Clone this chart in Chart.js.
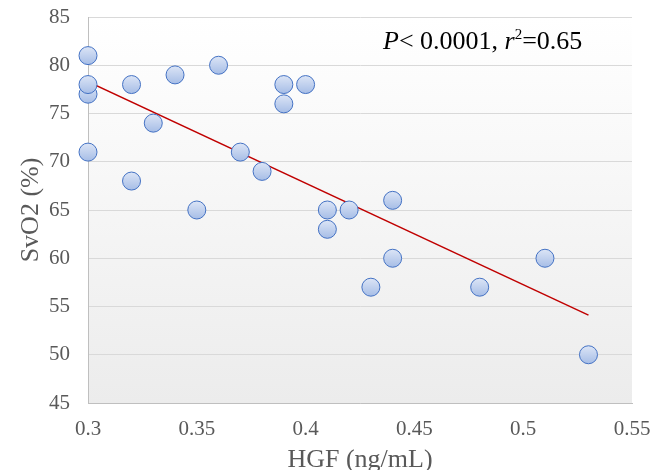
<!DOCTYPE html>
<html>
<head>
<meta charset="utf-8">
<script src="https://cdn.jsdelivr.net/npm/chart.js@4"></script>
<style>
  html, body { margin: 0; padding: 0; background: #fff; }
  #wrap { width: 652px; height: 470px; }
</style>
</head>
<body>
<div id="wrap"><canvas id="chart" width="652" height="470"></canvas></div>
<script>
const hgf = [0.30, 0.30, 0.30, 0.30, 0.32, 0.32, 0.33, 0.34, 0.35, 0.36, 0.37, 0.38,
             0.39, 0.39, 0.40, 0.41, 0.41, 0.42, 0.43, 0.44, 0.44, 0.48, 0.51, 0.53];
const svo2 = [81, 77, 78, 71, 78, 68, 74, 79, 65, 80, 71, 69,
              78, 76, 78, 65, 63, 65, 57, 66, 60, 57, 60, 50];
const trendX = [0.30, 0.53];
const trendY = [78.3, 54.1];

const serif = "'Liberation Serif', 'Times New Roman', serif";

// soft white-to-grey fill behind the plot area
const plotBackground = {
    id: 'plotBackground',
    beforeDraw(chart) {
        const { ctx, chartArea: a } = chart;
        const g = ctx.createLinearGradient(0, a.top, 0, a.bottom);
        g.addColorStop(0, '#ffffff');
        g.addColorStop(1, '#ececec');
        ctx.save();
        ctx.fillStyle = g;
        ctx.fillRect(a.left, a.top, a.right - a.left, a.bottom - a.top);
        ctx.restore();
    }
};

// "P< 0.0001, r2=0.65" with italics and superscript
const statsLabel = {
    id: 'statsLabel',
    afterDraw(chart) {
        const ctx = chart.ctx;
        const parts = [
            { t: 'P', f: 'italic 26px ' + serif, dy: 0 },
            { t: '< 0.0001, ', f: '26px ' + serif, dy: 0 },
            { t: 'r', f: 'italic 26px ' + serif, dy: 0 },
            { t: '2', f: '15px ' + serif, dy: -10 },
            { t: '=0.65', f: '26px ' + serif, dy: 0 }
        ];
        let x = 383;
        const y = 49;
        ctx.save();
        ctx.fillStyle = '#000';
        ctx.textBaseline = 'alphabetic';
        parts.forEach(p => {
            ctx.font = p.f;
            ctx.fillText(p.t, x, y + p.dy);
            x += ctx.measureText(p.t).width;
        });
        ctx.restore();
    }
};

// light-to-mid blue fill on each marker, top to bottom
function markerFill(c) {
    const chart = c.chart;
    if (!chart.chartArea || !c.parsed) return '#bccdeb';
    const py = chart.scales.y.getPixelForValue(c.parsed.y);
    const g = chart.ctx.createLinearGradient(0, py - 9, 0, py + 9);
    g.addColorStop(0, '#dce5f6');
    g.addColorStop(1, '#a6bde6');
    return g;
}

new Chart(document.getElementById('chart'), {
    type: 'scatter',
    data: {
        datasets: [{
            label: 'SvO2',
            data: hgf.map((x, i) => ({ x, y: svo2[i] })),
            pointRadius: 9,
            pointHoverRadius: 9,
            pointBackgroundColor: markerFill,
            pointBorderColor: '#4472c4',
            pointBorderWidth: 1,
            clip: false
        }, {
            label: 'Trend',
            type: 'line',
            data: trendX.map((x, i) => ({ x, y: trendY[i] })),
            borderColor: '#c00000',
            borderWidth: 1.5,
            pointRadius: 0,
            fill: false,
            order: 1
        }]
    },
    options: {
        responsive: false,
        animation: false,
        layout: { padding: { top: 17, right: 20, left: 0, bottom: 0 } },
        plugins: {
            legend: { display: false },
            tooltip: { enabled: false }
        },
        scales: {
            x: {
                type: 'linear',
                min: 0.3,
                max: 0.55,
                ticks: {
                    stepSize: 0.05,
                    color: '#595959',
                    font: { family: serif, size: 21 },
                    padding: 14,
                    callback: v => Number(v.toFixed(2)).toString()
                },
                grid: { display: false, drawTicks: false },
                border: { color: '#bfbfbf', width: 1 },
                title: {
                    display: true,
                    text: 'HGF (ng/mL)',
                    color: '#595959',
                    font: { family: serif, size: 26 },
                    padding: { top: 0, bottom: -6 }
                },
                afterFit: s => {
                    s.height = 67;
                    s.paddingLeft = 0;
                    s.paddingRight = 0;
                }
            },
            y: {
                min: 45,
                max: 85,
                ticks: {
                    stepSize: 5,
                    color: '#595959',
                    font: { family: serif, size: 21 },
                    padding: 18
                },
                grid: { color: '#d9d9d9', drawTicks: false },
                border: { color: '#bfbfbf', width: 1 },
                title: {
                    display: true,
                    text: 'SvO2 (%)',
                    color: '#595959',
                    font: { family: serif, size: 26 },
                    padding: { top: 16, bottom: 0 }
                },
                afterFit: s => {
                    s.width = 88;
                    s.paddingTop = 0;
                    s.paddingBottom = 0;
                }
            }
        }
    },
    plugins: [plotBackground, statsLabel]
});
</script>
</body>
</html>
